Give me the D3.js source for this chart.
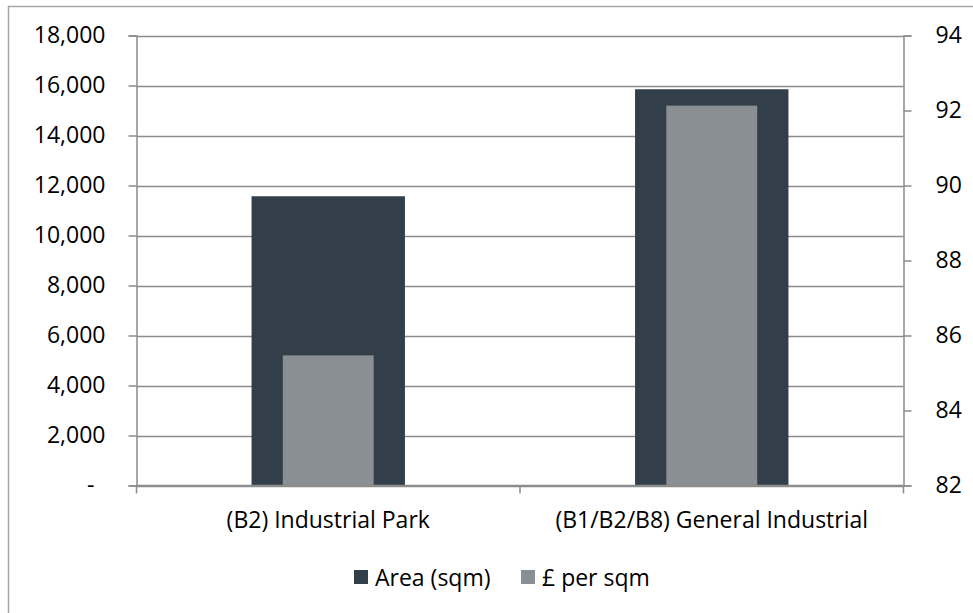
<!DOCTYPE html>
<html>
<head>
<meta charset="utf-8">
<script src="https://cdn.jsdelivr.net/npm/d3@7"></script>
<style>
  html, body { margin: 0; padding: 0; background: #fff; }
  svg { display: block; font-family: "Open Sans", sans-serif; }
</style>
</head>
<body>
<svg id="chart" width="973" height="613"></svg>
<script>
// Chart data
const categories = ["(B2) Industrial Park", "(B1/B2/B8) General Industrial"];
const areaSqm = [11570, 15850];
const pricePerSqm = [85.47, 92.13];
const leftTicks = [0, 2000, 4000, 6000, 8000, 10000, 12000, 14000, 16000, 18000];
const rightTicks = [82, 84, 86, 88, 90, 92, 94];
const seriesNames = ["Area (sqm)", "£ per sqm"];

const W = 973, H = 613;
const margin = { left: 136.5, right: W - 903.5, top: 35.5, bottom: H - 485.5 };
const colors = { area: "#323f4b", price: "#8a8f93", grid: "#8c8c8c", text: "#000" };
const FS = 23;

const svg = d3.select("#chart");

// Outer frame
svg.append("rect")
  .attr("x", 8.5).attr("y", 6.5)
  .attr("width", W + 20).attr("height", H + 20)
  .attr("fill", "none").attr("stroke", "#a6a6a6").attr("stroke-width", 1.5);

const x = d3.scaleBand()
  .domain(categories)
  .range([margin.left, W - margin.right]);

const yLeft = d3.scaleLinear().domain([0, 18000]).range([H - margin.bottom, margin.top]);
const yRight = d3.scaleLinear().domain([82, 94]).range([H - margin.bottom, margin.top]);

// Horizontal gridlines
svg.append("g")
  .selectAll("line")
  .data(leftTicks)
  .join("line")
  .attr("x1", margin.left).attr("x2", W - margin.right)
  .attr("y1", d => Math.round(yLeft(d)) + 0.5).attr("y2", d => Math.round(yLeft(d)) + 0.5)
  .attr("stroke", colors.grid).attr("stroke-width", 1.5);

// Bars: area (wide, primary axis) and price (narrow, secondary axis)
const bw = x.bandwidth();
const areaW = bw * 0.4, priceW = bw * 0.237;

svg.append("g")
  .selectAll("rect")
  .data(categories)
  .join("rect")
  .attr("x", (d) => x(d) + bw / 2 - areaW / 2)
  .attr("width", areaW)
  .attr("y", (d, i) => yLeft(areaSqm[i]))
  .attr("height", (d, i) => yLeft(0) - yLeft(areaSqm[i]))
  .attr("fill", colors.area);

svg.append("g")
  .selectAll("rect")
  .data(categories)
  .join("rect")
  .attr("x", (d) => x(d) + bw / 2 - priceW / 2)
  .attr("width", priceW)
  .attr("y", (d, i) => yRight(pricePerSqm[i]))
  .attr("height", (d, i) => yRight(82) - yRight(pricePerSqm[i]))
  .attr("fill", colors.price);

// Left axis
const fmtLeft = d => d === 0 ? "-" : d3.format(",")(d);
const gl = svg.append("g")
  .attr("transform", `translate(${margin.left},0)`)
  .call(d3.axisLeft(yLeft).tickValues(leftTicks).tickFormat(fmtLeft).tickSize(8).tickPadding(23));
gl.select(".domain").attr("stroke", colors.grid).attr("stroke-width", 1.5);
gl.selectAll(".tick line").attr("stroke", colors.grid).attr("stroke-width", 1.5);
gl.selectAll(".tick text")
  .attr("font-size", FS).attr("fill", colors.text)
  .attr("font-family", "Open Sans, sans-serif")
  .attr("dx", d => d === 0 ? -11 : 0);

// Right axis
const gr = svg.append("g")
  .attr("transform", `translate(${W - margin.right},0)`)
  .call(d3.axisRight(yRight).tickValues(rightTicks).tickFormat(d3.format("d")).tickSize(8).tickPadding(24));
gr.select(".domain").attr("stroke", colors.grid).attr("stroke-width", 1.5);
gr.selectAll(".tick line").attr("stroke", colors.grid).attr("stroke-width", 1.5);
gr.selectAll(".tick text")
  .attr("font-size", FS).attr("fill", colors.text)
  .attr("font-family", "Open Sans, sans-serif");

// Category axis
const xb = svg.append("g").attr("transform", `translate(0,${H - margin.bottom})`);
xb.append("line")
  .attr("x1", margin.left).attr("x2", W - margin.right)
  .attr("stroke", colors.grid).attr("stroke-width", 1.5);
const catEdges = [margin.left, x(categories[1]), W - margin.right];
xb.selectAll(".edge")
  .data(catEdges)
  .join("line")
  .attr("class", "edge")
  .attr("x1", d => d).attr("x2", d => d)
  .attr("y1", 0).attr("y2", 8)
  .attr("stroke", colors.grid).attr("stroke-width", 1.5);
xb.selectAll(".cat")
  .data(categories)
  .join("text")
  .attr("class", "cat")
  .attr("x", d => x(d) + bw / 2)
  .attr("y", 42)
  .attr("text-anchor", "middle")
  .attr("font-size", FS)
  .attr("fill", colors.text)
  .text(d => d);

// Legend
const legend = svg.append("g").attr("transform", "translate(354,570)");
const items = [
  { name: seriesNames[0], color: colors.area, x: 0 },
  { name: seriesNames[1], color: colors.price, x: 167 }
];
const li = legend.selectAll("g").data(items).join("g")
  .attr("transform", d => `translate(${d.x},0)`);
li.append("rect").attr("width", 14).attr("height", 14).attr("fill", d => d.color);
li.append("text")
  .attr("x", 21).attr("y", 16)
  .attr("font-size", FS).attr("fill", colors.text)
  .text(d => d.name);
</script>
</body>
</html>
